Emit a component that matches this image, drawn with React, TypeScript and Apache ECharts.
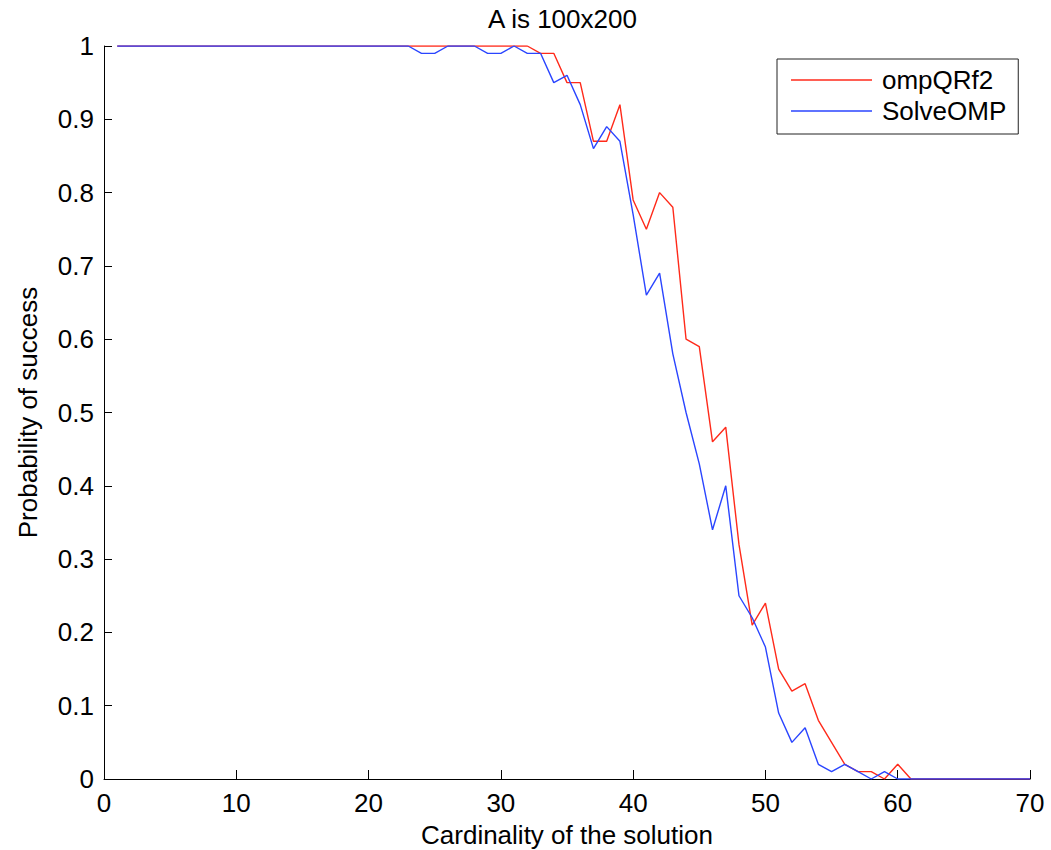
import React, { useEffect, useRef } from "react";
import * as echarts from "echarts";

// Cardinality values on the x axis
const cardinality: number[] = Array.from({ length: 70 }, (_, i) => i + 1);

// Probability of success for each method, one value per cardinality (1..70)
const ompQRf2: number[] = [
  1, 1, 1, 1, 1, 1, 1, 1, 1, 1,
  1, 1, 1, 1, 1, 1, 1, 1, 1, 1,
  1, 1, 1, 1, 1, 1, 1, 1, 1, 1,
  1, 1, 0.99, 0.99, 0.95, 0.95, 0.87, 0.87, 0.92, 0.79,
  0.75, 0.8, 0.78, 0.6, 0.59, 0.46, 0.48, 0.32, 0.21, 0.24,
  0.15, 0.12, 0.13, 0.08, 0.05, 0.02, 0.01, 0.01, 0, 0.02,
  0, 0, 0, 0, 0, 0, 0, 0, 0, 0,
];

const solveOMP: number[] = [
  1, 1, 1, 1, 1, 1, 1, 1, 1, 1,
  1, 1, 1, 1, 1, 1, 1, 1, 1, 1,
  1, 1, 1, 0.99, 0.99, 1, 1, 1, 0.99, 0.99,
  1, 0.99, 0.99, 0.95, 0.96, 0.92, 0.86, 0.89, 0.87, 0.77,
  0.66, 0.69, 0.58, 0.5, 0.43, 0.34, 0.4, 0.25, 0.22, 0.18,
  0.09, 0.05, 0.07, 0.02, 0.01, 0.02, 0.01, 0, 0.01, 0,
  0, 0, 0, 0, 0, 0, 0, 0, 0, 0,
];

const FONT = "'Liberation Sans', Arial, Helvetica, sans-serif";

export default function App() {
  const ref = useRef<HTMLDivElement>(null);

  useEffect(() => {
    if (!ref.current) return;
    const chart = echarts.init(ref.current, undefined, { renderer: "svg" });
    const pairs = (ys: number[]) => cardinality.map((x, i) => [x, ys[i]]);

    chart.setOption({
      animation: false,
      backgroundColor: "#ffffff",
      textStyle: { fontFamily: FONT },
      title: {
        text: "A is 100x200",
        left: 488,
        top: 6,
        padding: 0,
        textStyle: { fontFamily: FONT, fontSize: 26, fontWeight: "normal", color: "#000" },
      },
      legend: {
        orient: "vertical",
        left: 777,
        top: 59,
        padding: [8, 12, 10, 14],
        itemGap: 5,
        itemWidth: 81,
        itemHeight: 1.5,
        icon: "rect",
        borderColor: "#222",
        borderWidth: 1,
        backgroundColor: "#fff",
        textStyle: { fontFamily: FONT, fontSize: 26, color: "#000", padding: [0, 0, 0, 5] },
        data: ["ompQRf2", "SolveOMP"],
      },
      grid: {
        left: 104,
        right: 21,
        top: 46,
        bottom: 71,
        containLabel: false,
        outerBoundsMode: "none",
      },
      xAxis: {
        type: "value",
        min: 0,
        max: 70,
        interval: 10,
        name: "Cardinality of the solution",
        nameLocation: "middle",
        nameGap: 43,
        nameTextStyle: { fontFamily: FONT, fontSize: 26, color: "#000" },
        axisLine: { show: true, lineStyle: { color: "#000", width: 1 } },
        axisTick: { show: true, inside: true, length: 9, lineStyle: { color: "#000" } },
        axisLabel: { fontFamily: FONT, fontSize: 26, color: "#000", margin: 11 },
        splitLine: { show: false },
      },
      yAxis: {
        type: "value",
        min: 0,
        max: 1,
        interval: 0.1,
        name: "Probability of success",
        nameLocation: "middle",
        nameGap: 63,
        nameTextStyle: { fontFamily: FONT, fontSize: 26, color: "#000" },
        axisLine: { show: true, lineStyle: { color: "#000", width: 1 } },
        axisTick: { show: true, inside: true, length: 8, lineStyle: { color: "#000" } },
        axisLabel: { fontFamily: FONT, fontSize: 26, color: "#000", margin: 10 },
        splitLine: { show: false },
      },
      series: [
        {
          name: "ompQRf2",
          type: "line",
          data: pairs(ompQRf2),
          symbol: "none",
          showSymbol: false,
          color: "#ff2a1a",
          lineStyle: { color: "#ff2a1a", width: 1.4 },
        },
        {
          name: "SolveOMP",
          type: "line",
          data: pairs(solveOMP),
          symbol: "none",
          showSymbol: false,
          color: "#2a45ff",
          lineStyle: { color: "#2a45ff", width: 1.4 },
        },
      ],
    });

    return () => chart.dispose();
  }, []);

  return (
    <div
      ref={ref}
      style={{ position: "absolute", left: 0, top: 0, width: 1051, height: 850, background: "#fff" }}
    />
  );
}
